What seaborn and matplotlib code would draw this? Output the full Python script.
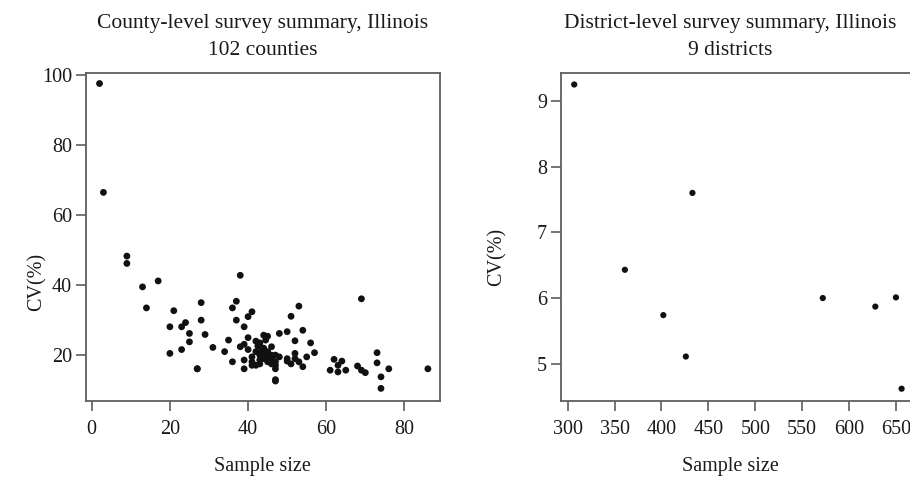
import matplotlib
matplotlib.use("Agg")
import matplotlib.pyplot as plt
import seaborn as sns
import pandas as pd

# County-level data (sample size, CV %)
county_n = [2, 3, 9, 9, 13, 17, 14, 20, 20, 21, 23, 24, 23, 25, 25, 27, 28, 28, 27, 29,
            31, 34, 35, 36, 36, 37, 37, 38, 38, 39, 39, 39, 39, 40, 41, 40, 40, 41, 41, 42,
            42.5, 43, 43.5, 43, 43, 44, 45, 44.5, 44, 45, 45, 46, 46, 47, 47, 47, 47, 47, 47, 48,
            50, 50, 50, 51, 52, 52, 52, 53, 53, 54, 54, 55, 56, 57, 61, 62, 63, 63, 64, 65,
            68, 69, 69, 70, 73, 73, 74, 74, 76, 86,
            42, 43, 44, 44, 45, 46, 41, 42, 46, 43, 48, 51]
county_cv = [97.6, 66.5, 48.3, 46.2, 39.5, 41.2, 33.5, 28.1, 20.5, 32.7, 28.1, 29.3, 21.6, 26.2, 23.8, 16.1, 35.0, 30.0, 16.1, 25.9,
             22.2, 21.0, 24.3, 18.1, 33.5, 35.4, 30.0, 42.8, 22.4, 28.1, 23.1, 18.6, 16.1, 31.0, 32.4, 25.0, 21.6, 18.1, 17.1, 17.1,
             22.6, 22.6, 21.4, 20.0, 18.6, 25.7, 25.4, 24.3, 20.0, 19.5, 18.1, 22.4, 20.0, 20.0, 18.1, 17.1, 16.1, 13.0, 12.6, 26.2,
             26.7, 19.0, 18.3, 31.1, 24.1, 20.5, 19.0, 34.0, 18.1, 27.1, 16.7, 19.5, 23.5, 20.7, 15.7, 18.8, 17.1, 15.2, 18.3, 15.7,
             16.9, 36.1, 15.7, 15.0, 20.7, 17.8, 13.8, 10.5, 16.1, 16.1,
             21.0, 23.5, 22.0, 19.0, 21.0, 19.0, 19.5, 24.0, 17.5, 17.5, 19.5, 17.5]

# District-level data
district_n = [307, 361, 402, 426, 433, 572, 628, 650, 656]
district_cv = [9.25, 6.43, 5.74, 5.11, 7.60, 6.00, 5.87, 6.01, 4.62]

left_xticks = [0, 20, 40, 60, 80]
left_yticks = [20, 40, 60, 80, 100]
right_xticks = [300, 350, 400, 450, 500, 550, 600, 650]
right_yticks = [5, 6, 7, 8, 9]

title_lines = [["County-level survey summary, Illinois", "102 counties"],
               ["District-level survey summary, Illinois", "9 districts"]]

sns.set_theme(style="white")
plt.rcParams['font.family'] = ['Liberation Serif', 'DejaVu Serif']
plt.rcParams['text.color'] = '#1a1a1a'
plt.rcParams['axes.labelcolor'] = '#1a1a1a'
plt.rcParams['xtick.color'] = '#1a1a1a'
plt.rcParams['ytick.color'] = '#1a1a1a'

W, H = 910, 479
fig = plt.figure(figsize=(W / 100, H / 100), dpi=100)

def fx(px):
    return px / W

def fy(py):
    return 1 - py / H

ax1 = fig.add_axes([fx(86), fy(401), 354 / W, 328 / H])
ax2 = fig.add_axes([fx(561), fy(401), 354 / W, 328 / H])

df1 = pd.DataFrame({"n": county_n, "cv": county_cv})
df2 = pd.DataFrame({"n": district_n, "cv": district_cv})

sns.scatterplot(data=df1, x="n", y="cv", ax=ax1, color="#111111", s=24,
                edgecolor="none", marker="o")
sns.scatterplot(data=df2, x="n", y="cv", ax=ax2, color="#111111", s=20,
                edgecolor="none", marker="o")

ax1.set_xlim(-1.46, 89.1)
ax1.set_ylim(6.9, 100.6)
ax2.set_xlim(292.9, 670.3)
ax2.set_ylim(4.433, 9.425)

for ax, xt, yt in [(ax1, left_xticks, left_yticks), (ax2, right_xticks, right_yticks)]:
    ax.set_xticks(xt)
    ax.set_yticks(yt)
    ax.set_xticklabels([str(v) for v in xt])
    ax.set_yticklabels([str(v) for v in yt])
    for sp in ax.spines.values():
        sp.set_visible(True)
        sp.set_color("#5e5e5e")
        sp.set_linewidth(1.3)
    ax.tick_params(axis="both", which="major", direction="out", length=7,
                   width=1.3, color="#6a6a6a", labelsize=14.5,
                   bottom=True, left=True, top=False, right=False)
    ax.tick_params(axis="x", pad=7)
    ax.tick_params(axis="y", pad=3)
    ax.set_xlabel("Sample size", fontsize=14.5)
    ax.set_ylabel("CV(%)", fontsize=14.5)
    ax.xaxis.label.set_va("baseline")

ax1.yaxis.set_label_coords((47 - 86) / 354, (401 - 282) / 328)
ax2.yaxis.set_label_coords((507 - 561) / 354, (401 - 257) / 328)
ax1.xaxis.set_label_coords((262 - 86) / 354, (401 - 471) / 328)
ax2.xaxis.set_label_coords((730 - 561) / 354, (401 - 471) / 328)

for cx, lines in [(263, title_lines[0]), (730, title_lines[1])]:
    fig.text(fx(cx), fy(28), lines[0], ha="center", va="baseline", fontsize=15.5)
    fig.text(fx(cx), fy(55), lines[1], ha="center", va="baseline", fontsize=15.5)

fig.savefig("out.png", dpi=100, facecolor="white")
